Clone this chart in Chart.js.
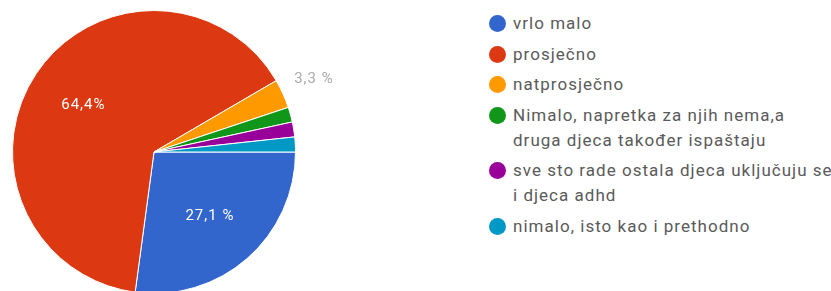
<!DOCTYPE html>
<html>
<head>
<meta charset="utf-8">
<script src="https://cdn.jsdelivr.net/npm/chart.js@4"></script>
<style>
  html, body { margin: 0; padding: 0; background: #fff; overflow: hidden; }
  #wrap { position: absolute; left: 0; top: 0; width: 360px; height: 300px; }
  #legend { position: absolute; left: 488px; top: 11px; margin: 0; padding: 0; list-style: none;
    font-family: Roboto, Arial, sans-serif; font-size: 17px; letter-spacing: 1.02px; color: #5a5a5a; }
  #legend li { position: relative; padding-left: 25px; line-height: 25px; margin-bottom: 5.5px; white-space: nowrap; }
  #legend li span.dot { position: absolute; left: 1px; top: 4px; width: 17px; height: 17px; border-radius: 50%; }
</style>
</head>
<body>
<div id="wrap"><canvas id="chartId"></canvas></div>
<ul id="legend"></ul>
<script>
// answers (legend lines), percentages, colours, slice labels
var categories = [
	['vrlo malo'],
	['prosječno'],
	['natprosječno'],
	['Nimalo, napretka za njih nema,a', 'druga djeca također ispaštaju'],
	['sve sto rade ostala djeca uključuju se', 'i djeca adhd'],
	['nimalo, isto kao i prethodno']
];
var values = [27.1, 64.4, 3.3, 1.7, 1.7, 1.7];
var colours = ['#3366cc', '#dc3912', '#ff9900', '#109618', '#990099', '#0099c6'];
var sliceLabels = ['27,1 %', '64,4%', '3,3 %', '', '', ''];

// draws the percentage text on / next to the slices
var sliceText = {
	id: 'sliceText',
	afterDatasetsDraw: function (chart) {
		var ctx = chart.ctx;
		var meta = chart.getDatasetMeta(0);
		ctx.save();
		ctx.font = '15px Roboto, Arial, sans-serif';
		ctx.letterSpacing = '1px';
		ctx.textAlign = 'center';
		ctx.textBaseline = 'middle';
		meta.data.forEach(function (arc, i) {
			if (!sliceLabels[i]) return;
			var p = arc.getProps(['x', 'y', 'startAngle', 'endAngle', 'outerRadius'], true);
			var mid = (p.startAngle + p.endAngle) / 2;
			var small = values[i] < 5;
			var r = small ? p.outerRadius + 34 : p.outerRadius * 0.6;
			ctx.fillStyle = small ? '#aaa' : '#fff';
			ctx.fillText(sliceLabels[i], p.x + Math.cos(mid) * r, p.y + Math.sin(mid) * r);
		});
		ctx.restore();
	}
};

var chrt = document.getElementById('chartId').getContext('2d');
var chartId = new Chart(chrt, {
	type: 'pie',
	data: {
		labels: categories,
		datasets: [{
			data: values,
			backgroundColor: colours,
			borderColor: '#fff',
			borderWidth: 1
		}]
	},
	options: {
		responsive: true,
		maintainAspectRatio: false,
		animation: false,
		rotation: 90,
		layout: { padding: { left: 12, top: 10, right: 64, bottom: 6 } },
		plugins: {
			legend: { display: false },
			tooltip: { enabled: false }
		}
	},
	plugins: [sliceText]
});

// html legend built from the chart's own legend items
var ul = document.getElementById('legend');
chartId.options.plugins.legend.labels.generateLabels(chartId).forEach(function (item) {
	var li = document.createElement('li');
	var dot = document.createElement('span');
	dot.className = 'dot';
	dot.style.background = item.fillStyle;
	li.appendChild(dot);
	categories[item.index].forEach(function (line, k) {
		if (k) li.appendChild(document.createElement('br'));
		li.appendChild(document.createTextNode(line));
	});
	ul.appendChild(li);
});
</script>
</body>
</html>
